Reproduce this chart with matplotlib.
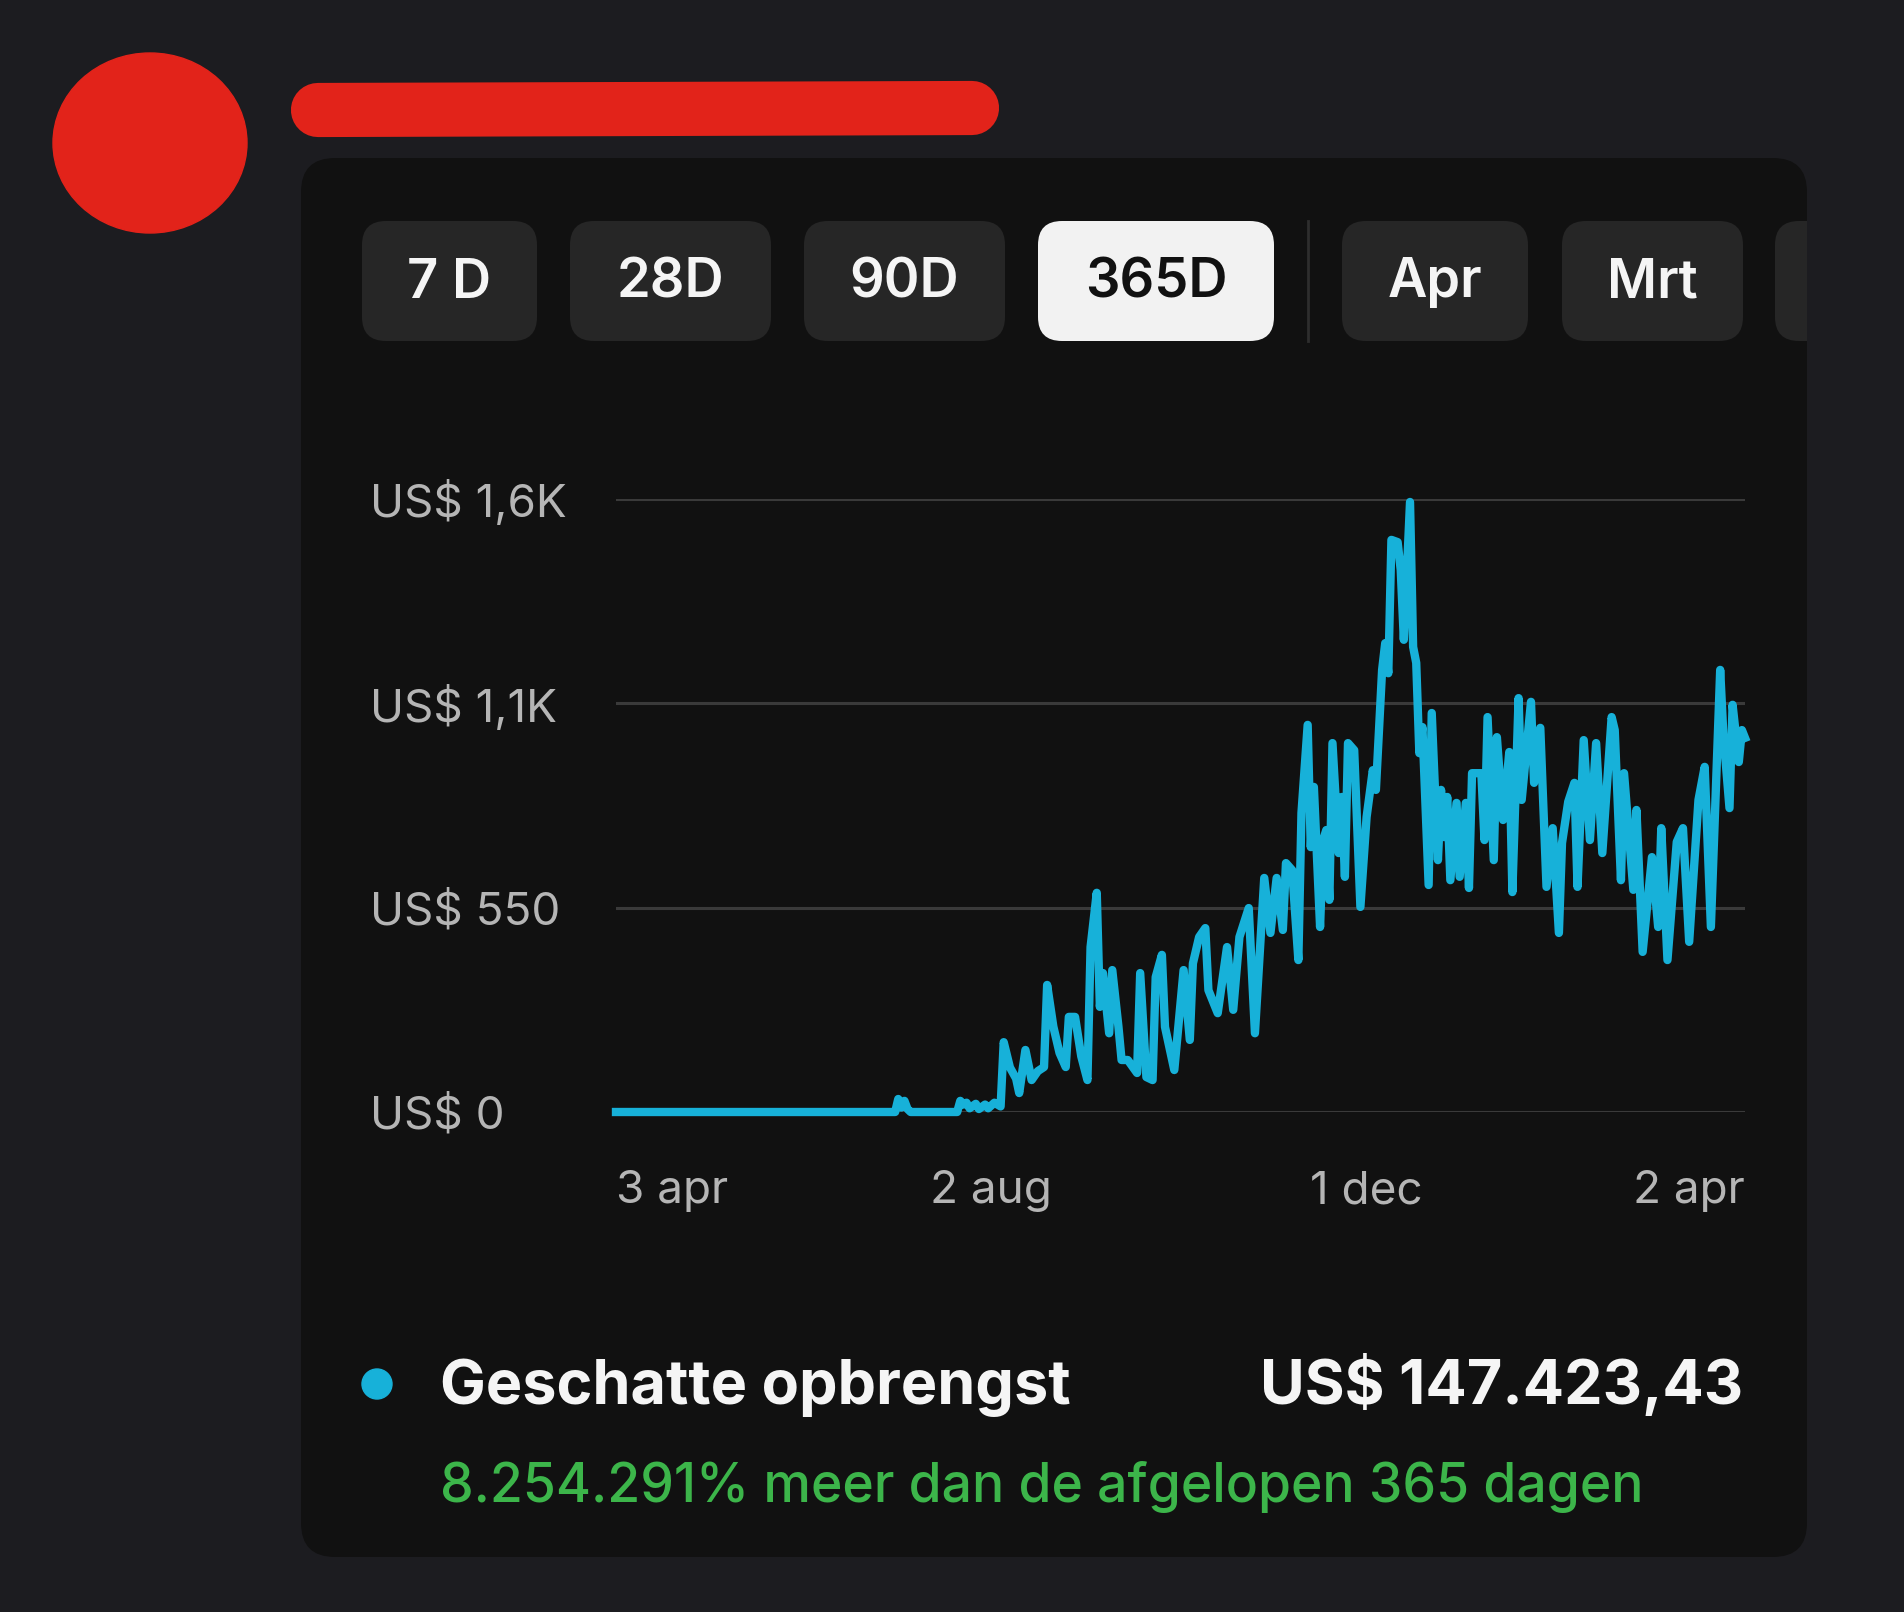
import matplotlib
matplotlib.use("Agg")
import matplotlib.pyplot as plt
from matplotlib.patches import FancyBboxPatch, Ellipse, Circle

plt.rcParams['font.family'] = ['Inter', 'DejaVu Sans']

# range buttons
buttons = ['7 D', '28D', '90D', '365D', 'Apr', 'Mrt']
selected = '365D'

# y axis ticks
y_ticks = [0, 550, 1100, 1650]
y_labels = ['US$ 0', 'US$ 550', 'US$ 1,1K', 'US$ 1,6K']

# x axis ticks (day index from 3 apr)
x_ticks = [0, 121, 242, 364]
x_labels = ['3 apr', '2 aug', '1 dec', '2 apr']

# estimated daily revenue
days = [0, 90, 91, 92, 93, 94, 95, 110, 111, 112, 113, 114, 116, 117, 119, 120,
        122, 124, 125, 127, 129, 130, 132, 134, 136, 138, 139, 141, 143, 145,
        146, 148, 150, 152, 153, 155, 156, 157, 159, 160, 162, 163, 165, 168,
        169, 171, 173, 174, 176, 177, 180, 183, 185, 186, 188, 190, 191, 194,
        197, 199, 201, 204, 206, 209, 211, 213, 215, 216, 218, 220, 221, 223, 224,
        225, 227, 228, 229, 230, 231, 233, 234, 235, 236, 238, 240, 242, 244,
        245, 247, 248, 249, 250, 252, 253, 254, 256, 257, 258, 259, 260, 262,
        263, 265, 266, 267, 268, 269, 271, 272, 274, 275, 276, 279, 280, 281,
        283, 284, 286, 288, 289, 291, 292, 295, 296, 298, 300, 302, 304, 305,
        307, 309, 310, 312, 314, 316, 318, 321, 322, 324, 325, 328, 329, 331,
        334, 336, 337, 339, 342, 344, 346, 349, 351, 353, 356, 357, 359, 360,
        362, 363, 364]
revenue = [0, 0, 35, 12, 30, 8, 0, 0, 30, 20, 25, 10, 22, 8, 20, 10,
           25, 15, 188, 120, 90, 51, 167, 86, 110, 121, 342, 230, 159, 121,
           256, 256, 150, 86, 444, 590, 283, 374, 212, 382, 229, 140, 140, 105,
           374, 94, 86, 363, 423, 229, 113, 382, 194, 400, 471, 495, 328, 266,
           444, 275, 471, 549, 212, 630, 482, 630, 490, 670, 651, 409, 805, 1042, 713,
           875, 498, 732, 759, 571, 993, 697, 848, 633, 993, 974, 552, 794, 920,
           867, 1190, 1262, 1181, 1540, 1534, 1459, 1271, 1642, 1252, 1209, 966, 1036, 611,
           1074, 678, 867, 740, 848, 624, 832, 633, 832, 603, 912, 912, 732, 1063,
           678, 1009, 786, 969, 592, 1114, 840, 1104, 886, 1034, 606, 764, 482, 724,
           835, 886, 606, 1001, 732, 993, 697, 1063, 1028, 624, 912, 598, 813, 431,
           686, 498, 764, 409, 727, 764, 458, 840, 929, 498, 1190, 1020, 818, 1096,
           942, 1028, 1007]

total_label = 'Geschatte opbrengst'
total_value = 'US$ 147.423,43'
change_text = '8.254.291% meer dan de afgelopen 365 dagen'

W, H = 1904, 1612
fig = plt.figure(figsize=(W / 100, H / 100), dpi=100)
fig.patch.set_facecolor('#1c1c20')

# overlay in pixel coordinates for the card, buttons and texts
bg = fig.add_axes([0, 0, 1, 1])
bg.set_xlim(0, W)
bg.set_ylim(H, 0)
bg.axis('off')

# redaction marks
bg.add_patch(Ellipse((150, 143), 194, 180, color='#e2231a', zorder=1))
bg.plot([318, 972], [110, 108], color='#e2231a', lw=39, solid_capstyle='round', zorder=1)

card = FancyBboxPatch((301, 158), 1506, 1399, boxstyle='round,pad=0,rounding_size=34',
                      fc='#111111', ec='none', zorder=1)
bg.add_patch(card)

btn_x = [(362, 537), (570, 771), (804, 1005), (1038, 1274), (1342, 1528), (1562, 1743)]
for name, (x0, x1) in zip(buttons, btn_x):
    sel = name == selected
    bg.add_patch(FancyBboxPatch((x0, 221), x1 - x0, 120,
                                boxstyle='round,pad=0,rounding_size=24',
                                fc='#f2f2f2' if sel else '#262626', ec='none', zorder=2))
    bg.text((x0 + x1) / 2, 283, name, ha='center', va='center', fontsize=39,
            fontweight='semibold', color='#111111' if sel else '#f5f5f5', zorder=3)
# partially hidden button at the card edge
extra = FancyBboxPatch((1775, 221), 180, 120, boxstyle='round,pad=0,rounding_size=24',
                       fc='#262626', ec='none', zorder=2)
bg.add_patch(extra)
extra.set_clip_path(card)
bg.plot([1308, 1308], [221, 341], color='#2e2e2e', lw=2, zorder=2)

# legend / summary
bg.add_patch(Circle((377, 1384), 15, color='#17b1d9', zorder=2))
bg.text(440, 1404, total_label, ha='left', va='baseline', fontsize=44,
        fontweight='bold', color='#f5f5f5', zorder=3)
bg.text(1743, 1404, total_value, ha='right', va='baseline', fontsize=44,
        fontweight='bold', color='#f5f5f5', zorder=3)
bg.text(440, 1502, change_text, ha='left', va='baseline', fontsize=38.5,
        fontweight='medium', color='#3cb54a', zorder=3)

# the chart itself
ax = fig.add_axes([616 / W, 1 - 1112 / H, (1745 - 616) / W, (1112 - 499) / H])
ax.set_facecolor('none')
ax.plot(days, revenue, color='#17b1d9', lw=6, solid_joinstyle='round',
        clip_on=False, zorder=3)
ax.set_xlim(0, 364)
ax.set_ylim(0, 1650)
for s in ax.spines.values():
    s.set_visible(False)
ax.set_yticks(y_ticks)
ax.set_yticklabels(y_labels)
ax.grid(axis='y', color='#3a3a3a', lw=2.2)
ax.set_axisbelow(True)
ax.set_xticks(x_ticks)
ax.set_xticklabels(x_labels)
ax.tick_params(length=0, colors='#b5b5b5', labelsize=33)
ax.tick_params(axis='y', pad=177)
ax.tick_params(axis='x', pad=42)
for lab in ax.get_yticklabels():
    lab.set_horizontalalignment('left')
xl = ax.get_xticklabels()
xl[0].set_horizontalalignment('left')
xl[-1].set_horizontalalignment('right')

fig.savefig('out.png', dpi=100, facecolor=fig.get_facecolor())
